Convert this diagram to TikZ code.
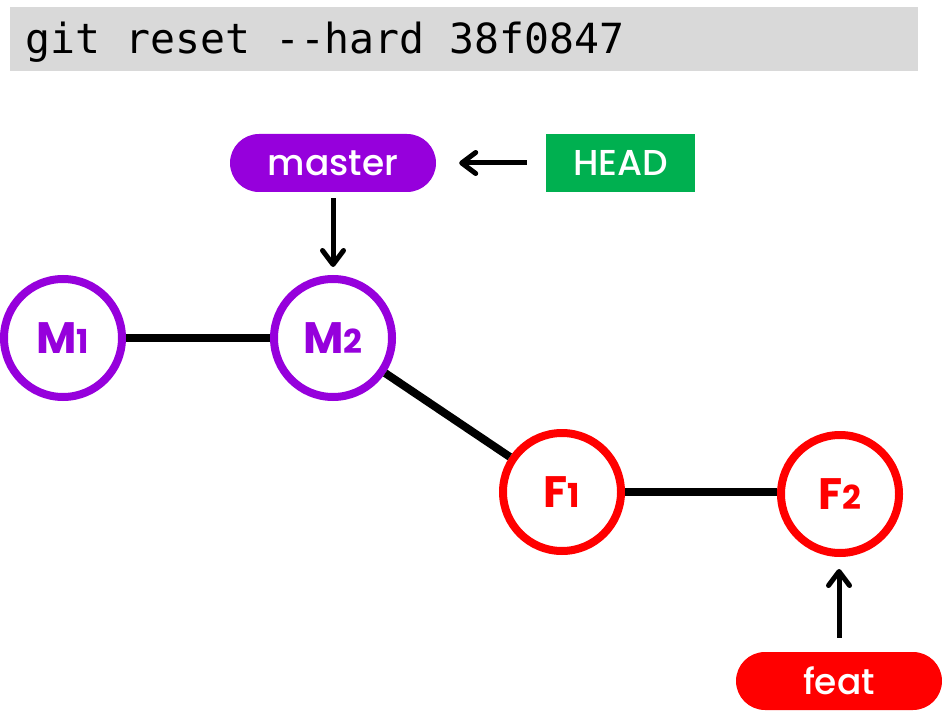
\documentclass[tikz,border=0pt]{standalone}
\usepackage{fontspec}
\setmainfont{Poppins}
\setmonofont{DejaVu Sans Mono}
\newfontfamily\labelfont{Poppins Medium}
\usetikzlibrary{arrows.meta}
\definecolor{gitpurple}{RGB}{150,0,220}
\definecolor{gitred}{RGB}{255,0,0}
\definecolor{gitgreen}{RGB}{0,176,80}
\definecolor{bargray}{RGB}{217,217,217}
\newcommand{\smalldigit}[1]{{\fontsize{33}{33}\selectfont #1}}
\begin{document}
\begin{tikzpicture}[x=1pt,y=-1pt,
  commit/.style={circle,draw=#1,line width=8pt,fill=white,minimum size=118pt,inner sep=0pt,
     text=#1,font=\fontsize{44}{44}\selectfont\bfseries},
  branch/.style={rectangle,rounded corners=29pt,fill=#1,minimum width=206pt,minimum height=58pt,
     inner sep=0pt,text=white,font=\fontsize{36}{36}\selectfont\labelfont},
  headbox/.style={rectangle,fill=gitgreen,minimum width=149pt,minimum height=58pt,inner sep=0pt,
     text=white,font=\fontsize{36}{36}\selectfont\labelfont},
  edge/.style={line width=8pt},
  pointer/.style={line width=5pt,-{Straight Barb[length=14pt,width=21pt,line width=5pt,line cap=round,line join=round]}}
]
\useasboundingbox (0,0) rectangle (942,727);
\fill[bargray] (10,7) rectangle (918,71);
\node[anchor=base west,inner sep=0pt,font=\fontsize{41.5}{41.5}\selectfont\ttfamily] (cmd) at (25,54) {git reset --hard 38f0847};

\node[branch=gitpurple] (master) at (333,163) {master};
\node[headbox] (head) at (620.5,163) {HEAD};
\node[branch=gitred] (feat) at (839,681) {feat};

\node[commit=gitpurple] (m1) at (63,338) {M\smalldigit{1}};
\node[commit=gitpurple] (m2) at (333,338) {M\smalldigit{2}};
\node[commit=gitred] (f1) at (562,492) {F\smalldigit{1}};
\node[commit=gitred] (f2) at (840,494) {F\smalldigit{2}};

\draw[edge] (m1) -- (m2);
\draw[edge] (m2) -- (f1);
\draw[edge] (f1.east) -- (f1.east -| f2.west);

\draw[pointer,shorten <=19pt,shorten >=23pt] (head.west) -- (master.east);
\draw[pointer,shorten <=6pt,shorten >=8pt] (master.south) -- (m2.north);
\draw[pointer,shorten <=14pt,shorten >=12pt] (feat.north) -- (feat.north |- f2.south);
\end{tikzpicture}
\end{document}
